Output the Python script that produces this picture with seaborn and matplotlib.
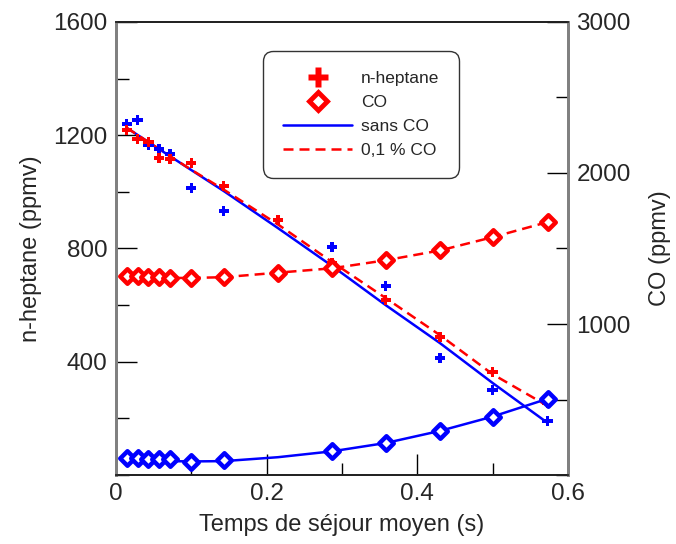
import matplotlib
matplotlib.use("Agg")
import matplotlib.pyplot as plt
import seaborn as sns
import pandas as pd
from matplotlib.lines import Line2D
from matplotlib.ticker import MultipleLocator

sns.set_theme(style="white")
plt.rcParams['font.family'] = ['Liberation Sans', 'DejaVu Sans']

# ---- data ----
tau = [0.0143, 0.0287, 0.043, 0.0573, 0.0717, 0.1, 0.143, 0.215, 0.287, 0.358, 0.43, 0.5, 0.573]
tau_sans = [0.0143, 0.0287, 0.043, 0.0573, 0.0717, 0.1, 0.143, 0.287, 0.358, 0.43, 0.5, 0.573]

# experiments, sans CO
hep_exp_sans = [1240, 1254, 1166, 1151, 1134, 1014, 932, 805, 668, 413, 300, 191]
co_exp_sans = [113, 112, 108, 106, 104, 88, 98, 159, 212, 292, 387, 505]
# experiments, 0.1 % CO
hep_exp_co = [1219, 1187, 1176, 1120, 1116, 1102, 1021, 901, 749, 618, 487, 364, 254]
co_exp_co = [1321, 1316, 1312, 1308, 1305, 1305, 1310, 1341, 1369, 1422, 1487, 1575, 1675]

# model curves
hep_mod_sans = [1226, 1201, 1176, 1151, 1126, 1077, 1003, 872, 738, 600, 466, 325, 184]
co_mod_sans = [100, 97, 95, 93, 92, 90, 92, 118, 157, 212, 292, 387, 505]
hep_mod_co = [1226, 1201, 1176, 1151, 1126, 1078, 1008, 885, 752, 625, 494, 356, 244]
co_mod_co = [1318, 1314, 1310, 1307, 1305, 1305, 1310, 1340, 1369, 1422, 1487, 1575, 1675]

BLUE = '#0000ff'
RED = '#ff0000'

fig = plt.figure(figsize=(6.76, 5.44), dpi=100)
ax = fig.add_axes([0.1716, 0.1268, 0.8402 - 0.1716, 0.9596 - 0.1268])
ax2 = ax.twinx()

mod = pd.DataFrame({'tau': tau, 'hs': hep_mod_sans, 'cs': co_mod_sans,
                    'hc': hep_mod_co, 'cc': co_mod_co})
dash = (4, 2.4)
# n-heptane models (left axis)
sns.lineplot(data=mod, x='tau', y='hs', ax=ax, color=BLUE, lw=1.8, zorder=2)
sns.lineplot(data=mod, x='tau', y='hc', ax=ax, color=RED, lw=1.8, zorder=2)
ax.lines[-1].set_dashes(dash)
# CO models (right axis)
sns.lineplot(data=mod, x='tau', y='cs', ax=ax2, color=BLUE, lw=1.8, zorder=2)
sns.lineplot(data=mod, x='tau', y='cc', ax=ax2, color=RED, lw=1.8, zorder=2)
ax2.lines[-1].set_dashes(dash)

# experimental points
sns.scatterplot(x=tau_sans, y=hep_exp_sans, ax=ax, marker='P', s=55, color=BLUE,
                edgecolor='none', zorder=3)
sns.scatterplot(x=tau, y=hep_exp_co, ax=ax, marker='P', s=55, color=RED,
                edgecolor='none', zorder=3)
sns.scatterplot(x=tau_sans, y=co_exp_sans, ax=ax2, marker='D', s=55, facecolor='white',
                edgecolor=BLUE, linewidth=3.2, zorder=3)
sns.scatterplot(x=tau, y=co_exp_co, ax=ax2, marker='D', s=55, facecolor='white',
                edgecolor=RED, linewidth=3.2, zorder=3)

ax.set_xlim(0, 0.6)
ax.set_ylim(0, 1600)
ax2.set_ylim(0, 3000)

ax.xaxis.set_minor_locator(MultipleLocator(0.1))
ax.set_xticks([0, 0.2, 0.4, 0.6])
ax.set_xticklabels(['0', '0.2', '0.4', '0.6'])
ax.set_yticks([400, 800, 1200, 1600])
ax.yaxis.set_minor_locator(MultipleLocator(200))
ax2.set_yticks([1000, 2000, 3000])
ax2.yaxis.set_minor_locator(MultipleLocator(500))

for a in (ax, ax2):
    a.tick_params(which='major', direction='in', length=15, width=1, color='black',
                  labelsize=17.5, pad=6)
    a.tick_params(which='minor', direction='in', length=9, width=1, color='black')
ax.tick_params(axis='x', which='both', top=False, bottom=True)
ax.tick_params(axis='y', which='both', left=True, right=False)
ax2.tick_params(axis='y', which='both', right=True, left=False)

for a in (ax, ax2):
    for s in ('left', 'right'):
        a.spines[s].set_color('#808080')
        a.spines[s].set_linewidth(2)
    for s in ('top', 'bottom'):
        a.spines[s].set_color('#222222')
        a.spines[s].set_linewidth(1.3)

ax.set_xlabel('Temps de séjour moyen (s)', fontsize=17, labelpad=6)
ax.set_ylabel('n-heptane (ppmv)', fontsize=17, labelpad=8)
ax2.set_ylabel('CO (ppmv)', fontsize=17, labelpad=13)

handles = [
    Line2D([], [], marker='P', markersize=15, color=RED, linestyle='none', markeredgecolor='none'),
    Line2D([], [], marker='D', markersize=9, markerfacecolor='white', markeredgecolor=RED,
           markeredgewidth=3.5, linestyle='none'),
    Line2D([], [], color=BLUE, lw=1.8),
    Line2D([], [], color=RED, lw=1.8, dashes=dash),
]
labels = ['n-heptane', 'CO', 'sans CO', '0,1 % CO']
leg = ax2.legend(handles, labels, loc='upper left', bbox_to_anchor=(0.325, 0.936),
                 fontsize=12.5, frameon=True, fancybox=True, edgecolor='black',
                 handlelength=4.0, handletextpad=0.5, labelspacing=0.5,
                 borderpad=1.15, borderaxespad=0)
leg.get_frame().set_linewidth(1.0)
leg.get_frame().set_boxstyle('round', pad=0.0, rounding_size=0.6)

fig.savefig('out.png', dpi=100)
